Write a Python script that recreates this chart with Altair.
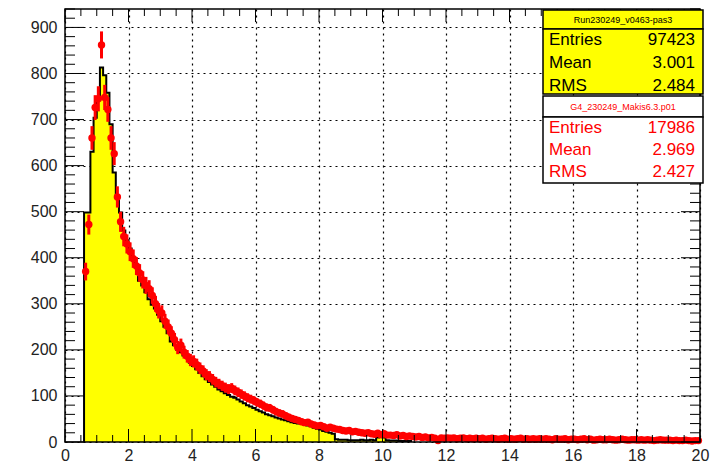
import altair as alt
import pandas as pd

# ---------------- data ----------------
BIN_WIDTH = 0.1
HIST_START = 0.6

# yellow (data) histogram, bins of 0.1 starting at 0.6
data_counts = [
    498, 498, 630, 704, 748, 813, 796, 758, 690, 585, 530, 498, 459, 438,
    420, 400, 385, 350, 340, 325, 310, 298, 290, 276,
    262, 250, 236, 218, 210, 200, 195, 188, 183, 172,
    165, 158, 150, 143, 136, 130, 125, 120, 114, 110,
    106, 102, 98, 96, 92, 88, 84, 80, 77, 74,
    70, 67, 64, 60, 58, 56, 53, 51, 49, 47,
    45, 43, 41, 40, 39, 38, 36, 34, 31, 29,
    27, 24, 22, 20, 18, 6, 5, 5, 5, 4,
    4, 4, 4, 5, 4, 4, 5, 4, 10, 12,
    10, 4, 3, 3, 3, 2, 2, 2, 2,
]

# red (MC) points, bins of 0.1 starting at 0.6
mc_counts = [
    370, 472, 660, 726, 745, 862, 748, 722, 660, 626, 532, 478, 446, 430,
    413, 398, 382, 367, 352, 340, 333, 318, 300, 285,
    280, 262, 250, 236, 222, 205, 210, 195, 186, 178,
    175, 168, 160, 154, 146, 142, 136, 130, 126, 122,
    118, 115, 117, 112, 108, 104, 100, 96, 93, 90,
    86, 83, 79, 75, 74, 70, 66, 63, 61, 57,
    54, 51, 49, 47, 44, 42, 43, 39, 37, 35,
    36, 33, 30, 32, 30, 28, 27, 25, 24, 25,
    22, 23, 21, 20, 19, 20, 18, 17, 19, 16,
    18, 15, 15, 14, 16, 13, 14, 12, 13, 12,
    11, 12, 10, 11, 9, 10, 8, 3, 9, 8,
    9, 8, 9, 7, 8, 9, 7, 8, 7, 8,
    7, 8, 6, 7, 8, 7, 6, 7, 8, 6,
    7, 6, 7, 8, 6, 7, 6, 7, 6, 7,
    6, 7, 6, 5, 7, 6, 6, 7, 5, 6,
    6, 5, 6, 7, 5, 6, 4, 5, 6, 5,
    5, 6, 5, 4, 5, 6, 5, 4, 5, 5,
    4, 5, 4, 5, 4, 3, 4, 5, 4, 4,
    4, 3, 4, 3, 3, 4, 3, 2, 3, 3,
]

x_major = [0, 2, 4, 6, 8, 10, 12, 14, 16, 18, 20]
x_minor = [v / 2 for v in range(0, 41) if v % 4 != 0]
y_major = [0, 100, 200, 300, 400, 500, 600, 700, 800, 900]
y_minor = [v for v in range(0, 941, 20) if v % 100 != 0]

stat_names = ["Entries", "Mean", "RMS"]
data_stats = ["97423", "3.001", "2.484"]
mc_stats = ["17986", "2.969", "2.427"]
data_title = "Run230249_v0463-pas3"
mc_title = "G4_230249_Makis6.3.p01"

X_DOMAIN = [0, 20]
Y_DOMAIN = [0, 940]
W, H = 635, 433
FONT = "Liberation Sans"

# ---------------- frames ----------------
edges = [round(HIST_START + BIN_WIDTH * i, 3) for i in range(len(data_counts))]
hist_end = round(HIST_START + BIN_WIDTH * len(data_counts), 3)
area_df = pd.DataFrame({"x": edges + [hist_end], "y": data_counts + [data_counts[-1]]})
line_df = pd.DataFrame({
    "x": [HIST_START] + edges + [hist_end],
    "y": [0] + data_counts + [0],
})
line_df["i"] = range(len(line_df))

mc_centers = [round(HIST_START + BIN_WIDTH * (i + 0.5), 3) for i in range(len(mc_counts))]
mc_df = pd.DataFrame({"x": mc_centers, "n": mc_counts})

xs = alt.Scale(domain=X_DOMAIN, nice=False, zero=False)
ys = alt.Scale(domain=Y_DOMAIN, nice=False)

x_axis = alt.Axis(values=x_major, grid=True, gridDash=[2, 4], gridColor="black",
                  gridWidth=1.2, gridOpacity=1, ticks=False, domain=False,
                  labelFontSize=16, labelPadding=5, labelFlush=False,
                  labelOverlap=False, labelColor="#222", title=None, format="d")
y_axis = alt.Axis(values=y_major, grid=True, gridDash=[2, 4], gridColor="black",
                  gridWidth=1.2, gridOpacity=1, ticks=False, domain=False,
                  labelFontSize=16, labelPadding=8, labelFlush=False,
                  labelOverlap=False, labelColor="#222", title=None, format="d")


def X(field, **kw):
    return alt.X(field, scale=xs, axis=x_axis, title=None, **kw)


def Y(field, **kw):
    return alt.Y(field, scale=ys, axis=y_axis, title=None, **kw)


area = alt.Chart(area_df).mark_area(interpolate="step-after", color="#ffff00",
                                    opacity=1).encode(x=X("x:Q"), y=Y("y:Q"))

outline = alt.Chart(line_df).mark_line(interpolate="step-after", color="black",
                                       strokeWidth=2).encode(
    x=X("x:Q"), y=Y("y:Q"), order="i:Q")

mc_base = alt.Chart(mc_df).transform_calculate(
    lo="datum.n - sqrt(datum.n)",
    hi="datum.n + sqrt(datum.n)",
    xl="datum.x - 0.05",
    xh="datum.x + 0.05",
)
red = "#ff0000"
err_y = mc_base.mark_rule(color=red, strokeWidth=3).encode(
    x=X("x:Q"), y=Y("lo:Q"), y2="hi:Q")
err_x = mc_base.mark_rule(color=red, strokeWidth=3).encode(
    x=X("xl:Q"), x2="xh:Q", y=Y("n:Q"))
pts = mc_base.mark_circle(color=red, size=55, opacity=1).encode(
    x=X("x:Q"), y=Y("n:Q"))


def x_ticks(values, length):
    d = pd.DataFrame({"x": values})
    bottom = alt.Chart(d).mark_rule(color="black", strokeWidth=1).encode(
        x=X("x:Q"), y=alt.value(H), y2=alt.value(H - length))
    top = alt.Chart(d).mark_rule(color="black", strokeWidth=1).encode(
        x=X("x:Q"), y=alt.value(0), y2=alt.value(length))
    return [bottom, top]


def y_ticks(values, length):
    d = pd.DataFrame({"y": values})
    left = alt.Chart(d).mark_rule(color="black", strokeWidth=1).encode(
        y=Y("y:Q"), x=alt.value(0), x2=alt.value(length))
    right = alt.Chart(d).mark_rule(color="black", strokeWidth=1).encode(
        y=Y("y:Q"), x=alt.value(W), x2=alt.value(W - length))
    return [left, right]


ticks = (x_ticks(x_major, 13) + x_ticks(x_minor, 7)
         + y_ticks(y_major, 19) + y_ticks(y_minor, 10))

one = pd.DataFrame({"a": [0]})
frame = alt.Chart(one).mark_rect(filled=False, stroke="black", strokeWidth=1.5).encode(
    x=alt.value(0), x2=alt.value(W), y=alt.value(0), y2=alt.value(H))


def box(x0, x1, y0, y1, fill):
    return alt.Chart(one).mark_rect(fill=fill, stroke="black", strokeWidth=1.5).encode(
        x=alt.value(x0), x2=alt.value(x1), y=alt.value(y0), y2=alt.value(y1))


def txt(s, x, y, color, size, align):
    return alt.Chart(one).mark_text(text=s, color=color, fontSize=size, align=align,
                                    baseline="middle", font=FONT).encode(
        x=alt.value(x), y=alt.value(y))


BX0, BX1 = 478, 638
stats = [
    box(BX0, BX1, 1, 20, "#ffff00"),
    box(BX0, BX1, 20, 85, "#ffff00"),
    box(BX0, BX1, 87, 108, "white"),
    box(BX0, BX1, 108, 174, "white"),
    txt(data_title, (BX0 + BX1) / 2, 10.5, "black", 9, "center"),
    txt(mc_title, (BX0 + BX1) / 2, 98, red, 9, "center"),
]
for k, name in enumerate(stat_names):
    stats.append(txt(name, BX0 + 6, 31 + 23 * k, "black", 17, "left"))
    stats.append(txt(data_stats[k], BX1 - 8, 31 + 23 * k, "black", 17, "right"))
    stats.append(txt(name, BX0 + 6, 119 + 22 * k, red, 17, "left"))
    stats.append(txt(mc_stats[k], BX1 - 8, 119 + 22 * k, red, 17, "right"))

chart = alt.layer(area, outline, err_y, err_x, pts, *ticks, frame, *stats).properties(
    width=W, height=H,
    autosize=alt.AutoSizeParams(type="none"),
    padding={"left": 65, "top": 9, "right": 13, "bottom": 22},
    background="white",
).configure_view(stroke=None).configure_axis(labelFont=FONT)

chart.save("out.html", embed_options={"renderer": "svg", "actions": False})
